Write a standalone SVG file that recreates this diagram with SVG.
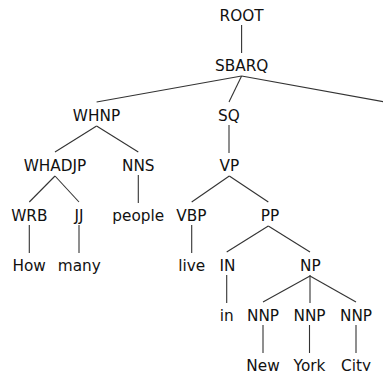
<svg xmlns="http://www.w3.org/2000/svg" width="383" height="371" viewBox="0 0 383 371">
<style>
text{font-family:"DejaVu Sans","Liberation Sans",sans-serif;font-size:15.3px;fill:#111;text-anchor:middle}
.e line{stroke:#333;stroke-width:1.1;fill:none}
</style>
<rect width="383" height="371" fill="#fff"/>
<g class="e" id="connectors">
<line x1="241.6" y1="25" x2="241.6" y2="53"/>
<line x1="241.6" y1="76" x2="96.6" y2="102"/>
<line x1="241.6" y1="76" x2="229" y2="102"/>
<line x1="241.6" y1="76" x2="385" y2="102"/>
<line x1="96.6" y1="126" x2="55" y2="152"/>
<line x1="96.6" y1="126" x2="138.3" y2="152"/>
<line x1="229" y1="125" x2="229" y2="153"/>
<line x1="55" y1="176" x2="29.3" y2="202"/>
<line x1="55" y1="176" x2="79" y2="202"/>
<line x1="138.3" y1="175" x2="138.3" y2="203"/>
<line x1="229.3" y1="176" x2="191.7" y2="202"/>
<line x1="229.3" y1="176" x2="268.3" y2="202"/>
<line x1="29.3" y1="225" x2="29.3" y2="253"/>
<line x1="79" y1="225" x2="79" y2="253"/>
<line x1="191.7" y1="225" x2="191.7" y2="253"/>
<line x1="268.3" y1="226" x2="226.7" y2="252"/>
<line x1="268.3" y1="226" x2="310" y2="252"/>
<line x1="226.7" y1="275" x2="226.7" y2="303"/>
<line x1="310" y1="276" x2="263" y2="302"/>
<line x1="310" y1="275" x2="310" y2="303"/>
<line x1="310" y1="276" x2="356" y2="302"/>
<line x1="263" y1="325" x2="263" y2="353"/>
<line x1="309.5" y1="325" x2="309.5" y2="353"/>
<line x1="356" y1="325" x2="356" y2="353"/>
</g>
<g id="n-root"><text x="241.6" y="20.6">ROOT</text></g>
<g id="n-sbarq"><text x="241.7" y="70.6">SBARQ</text></g>
<g id="n-whnp"><text x="96.5" y="120.6">WHNP</text></g>
<g id="n-sq"><text x="228.9" y="120.6">SQ</text></g>
<g id="n-whadjp"><text x="55" y="170.6">WHADJP</text></g>
<g id="n-nns"><text x="138.3" y="170.6">NNS</text></g>
<g id="n-vp"><text x="229.3" y="170.6">VP</text></g>
<g id="n-wrb"><text x="29.3" y="220.6">WRB</text></g>
<g id="n-jj"><text x="79" y="220.6">JJ</text></g>
<g id="n-people"><text x="138.3" y="220.6">people</text></g>
<g id="n-vbp"><text x="191.3" y="220.6">VBP</text></g>
<g id="n-pp"><text x="270" y="220.6">PP</text></g>
<g id="n-how"><text x="29.2" y="270.6">How</text></g>
<g id="n-many"><text x="79.3" y="270.6">many</text></g>
<g id="n-live"><text x="191.7" y="270.6">live</text></g>
<g id="n-in"><text x="227.6" y="270.6">IN</text></g>
<g id="n-np"><text x="310.3" y="270.6">NP</text></g>
<g id="n-in2"><text x="226.7" y="320.6">in</text></g>
<g id="n-nnp1"><text x="263" y="320.6">NNP</text></g>
<g id="n-nnp2"><text x="309.5" y="320.6">NNP</text></g>
<g id="n-nnp3"><text x="356" y="320.6">NNP</text></g>
<g id="n-new"><text x="263" y="370.6">New</text></g>
<g id="n-york"><text x="309.5" y="370.6">York</text></g>
<g id="n-city"><text x="356" y="370.6">City</text></g>
</svg>
